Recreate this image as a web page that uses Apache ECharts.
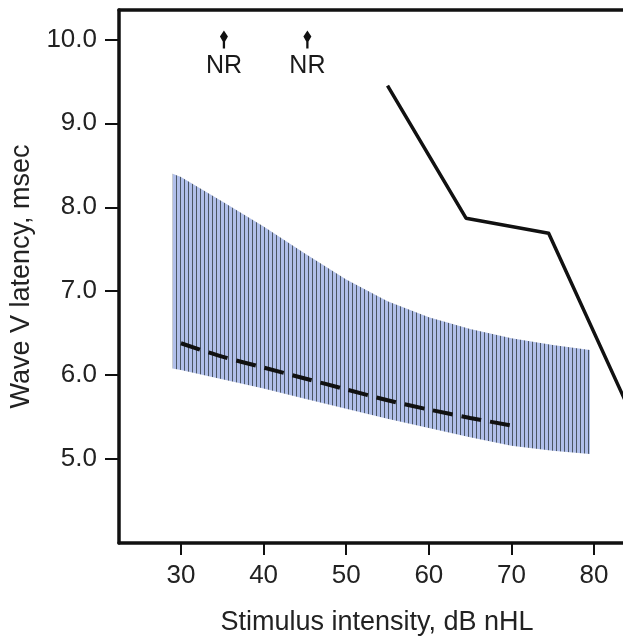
<!DOCTYPE html>
<html>
<head>
<meta charset="utf-8">
<script src="https://cdn.jsdelivr.net/npm/echarts@6/dist/echarts.min.js"></script>
<style>
  html, body { margin: 0; padding: 0; background: #fff; }
  #chart { width: 623px; height: 641px; }
</style>
</head>
<body>
<div id="chart"></div>
<script>
// Normal range of wave V latency vs. click level (shaded band), its mean (dashed)
// and one patient's latency-intensity function (solid).
const bandIntensity = [29, 30, 35, 40, 45, 50, 55, 60, 65, 70, 75, 79.5];
const bandUpper     = [8.40, 8.36, 8.07, 7.77, 7.45, 7.14, 6.88, 6.69, 6.55, 6.44, 6.36, 6.30];
const bandLower     = [6.08, 6.06, 5.95, 5.84, 5.72, 5.60, 5.48, 5.37, 5.26, 5.16, 5.10, 5.06];

const meanIntensity = [30, 35, 40, 45, 50, 55, 60, 65, 70];
const meanLatency   = [6.38, 6.22, 6.09, 5.96, 5.83, 5.70, 5.59, 5.49, 5.40];

const patientIntensity = [55, 64.5, 74.5, 85];
const patientLatency   = [9.45, 7.87, 7.69, 5.43];

// No-response markers
const nrIntensity = [35.2, 45.3];
const nrLatency   = [10.0, 10.0];
const nrText = 'NR';

const xTicks = [30, 40, 50, 60, 70, 80];
const yTicks = [5, 6, 7, 8, 9, 10];

const xTitle = 'Stimulus intensity, dB nHL';
const yTitle = 'Wave V latency, msec';

// vertical hatching for the normal band
function hatchPattern() {
  const c = document.createElement('canvas');
  c.width = 4; c.height = 4;
  const g = c.getContext('2d');
  g.fillStyle = '#b1bfea';
  g.fillRect(0, 0, 4, 4);
  g.fillStyle = '#4a5664';
  g.fillRect(0, 0, 1, 4);
  return c;
}

const zip = (xs, ys) => xs.map((x, i) => [x, ys[i]]);

const FONT = 'Liberation Sans, Arial, sans-serif';
const INK = '#111';
const hatch = hatchPattern();

const chart = echarts.init(document.getElementById('chart'), null, { renderer: 'canvas' });

chart.setOption({
  animation: false,
  backgroundColor: '#fff',
  grid: { left: 119, top: 10, right: 0, height: 533 },
  xAxis: [{
    type: 'value', min: 22.5, max: 83.5, position: 'bottom',
    name: xTitle, nameLocation: 'middle', nameGap: 66,
    nameTextStyle: { fontFamily: FONT, fontSize: 27, color: '#222', verticalAlign: 'top', padding: [0, 0, 0, 12] },
    axisLine: { show: true, onZero: false, lineStyle: { color: INK, width: 3.5 } },
    axisTick: { show: true, length: 12, lineStyle: { color: INK, width: 2 }, customValues: xTicks },
    axisLabel: { fontFamily: FONT, fontSize: 26, color: '#222', margin: 20, customValues: xTicks },
    splitLine: { show: false }
  }, {
    type: 'value', min: 22.5, max: 83.5, position: 'top',
    axisLine: { show: true, onZero: false, lineStyle: { color: INK, width: 3.5 } },
    axisTick: { show: false }, axisLabel: { show: false }, splitLine: { show: false }
  }],
  yAxis: {
    type: 'value', min: 4, max: 10.35,
    name: yTitle, nameLocation: 'middle', nameGap: 78, nameRotate: 90,
    nameTextStyle: { fontFamily: FONT, fontSize: 27, color: '#222' },
    axisLine: { show: true, onZero: false, lineStyle: { color: INK, width: 3.5 } },
    axisTick: { show: true, length: 14, lineStyle: { color: INK, width: 2 }, customValues: yTicks },
    axisLabel: {
      fontFamily: FONT, fontSize: 26, color: '#222', margin: 22, customValues: yTicks,
      formatter: v => v.toFixed(1)
    },
    splitLine: { show: false }
  },
  series: [
    {
      // normal band: polygon along the upper bound, back along the lower bound
      type: 'custom', silent: true, clip: true,
      data: [0],
      renderItem: (params, api) => {
        const upper = bandIntensity.map((x, i) => api.coord([x, bandUpper[i]]));
        const lower = bandIntensity.map((x, i) => api.coord([x, bandLower[i]])).reverse();
        return {
          type: 'polygon',
          shape: { points: upper.concat(lower) },
          style: { fill: { image: hatch, repeat: 'repeat' }, stroke: null }
        };
      }
    },
    {
      type: 'line', data: zip(meanIntensity, meanLatency), showSymbol: false, smooth: 0.3,
      lineStyle: { color: INK, width: 4, type: [20, 9], cap: 'butt' }
    },
    {
      type: 'line', data: zip(patientIntensity, patientLatency), showSymbol: false,
      lineStyle: { color: INK, width: 3.5, join: 'round' }, clip: true
    },
    {
      type: 'scatter', data: zip(nrIntensity, nrLatency),
      symbol: 'path://M4,0 L7.5,6 L5,11 L5,18 L3,18 L3,11 L0.5,6 Z',
      symbolSize: [8, 18], itemStyle: { color: INK, opacity: 1 },
      label: {
        show: true, position: 'bottom', distance: 5, formatter: nrText,
        fontFamily: FONT, fontSize: 25, color: '#1a1a1a', opacity: 1
      }
    }
  ]
});
</script>
</body>
</html>
